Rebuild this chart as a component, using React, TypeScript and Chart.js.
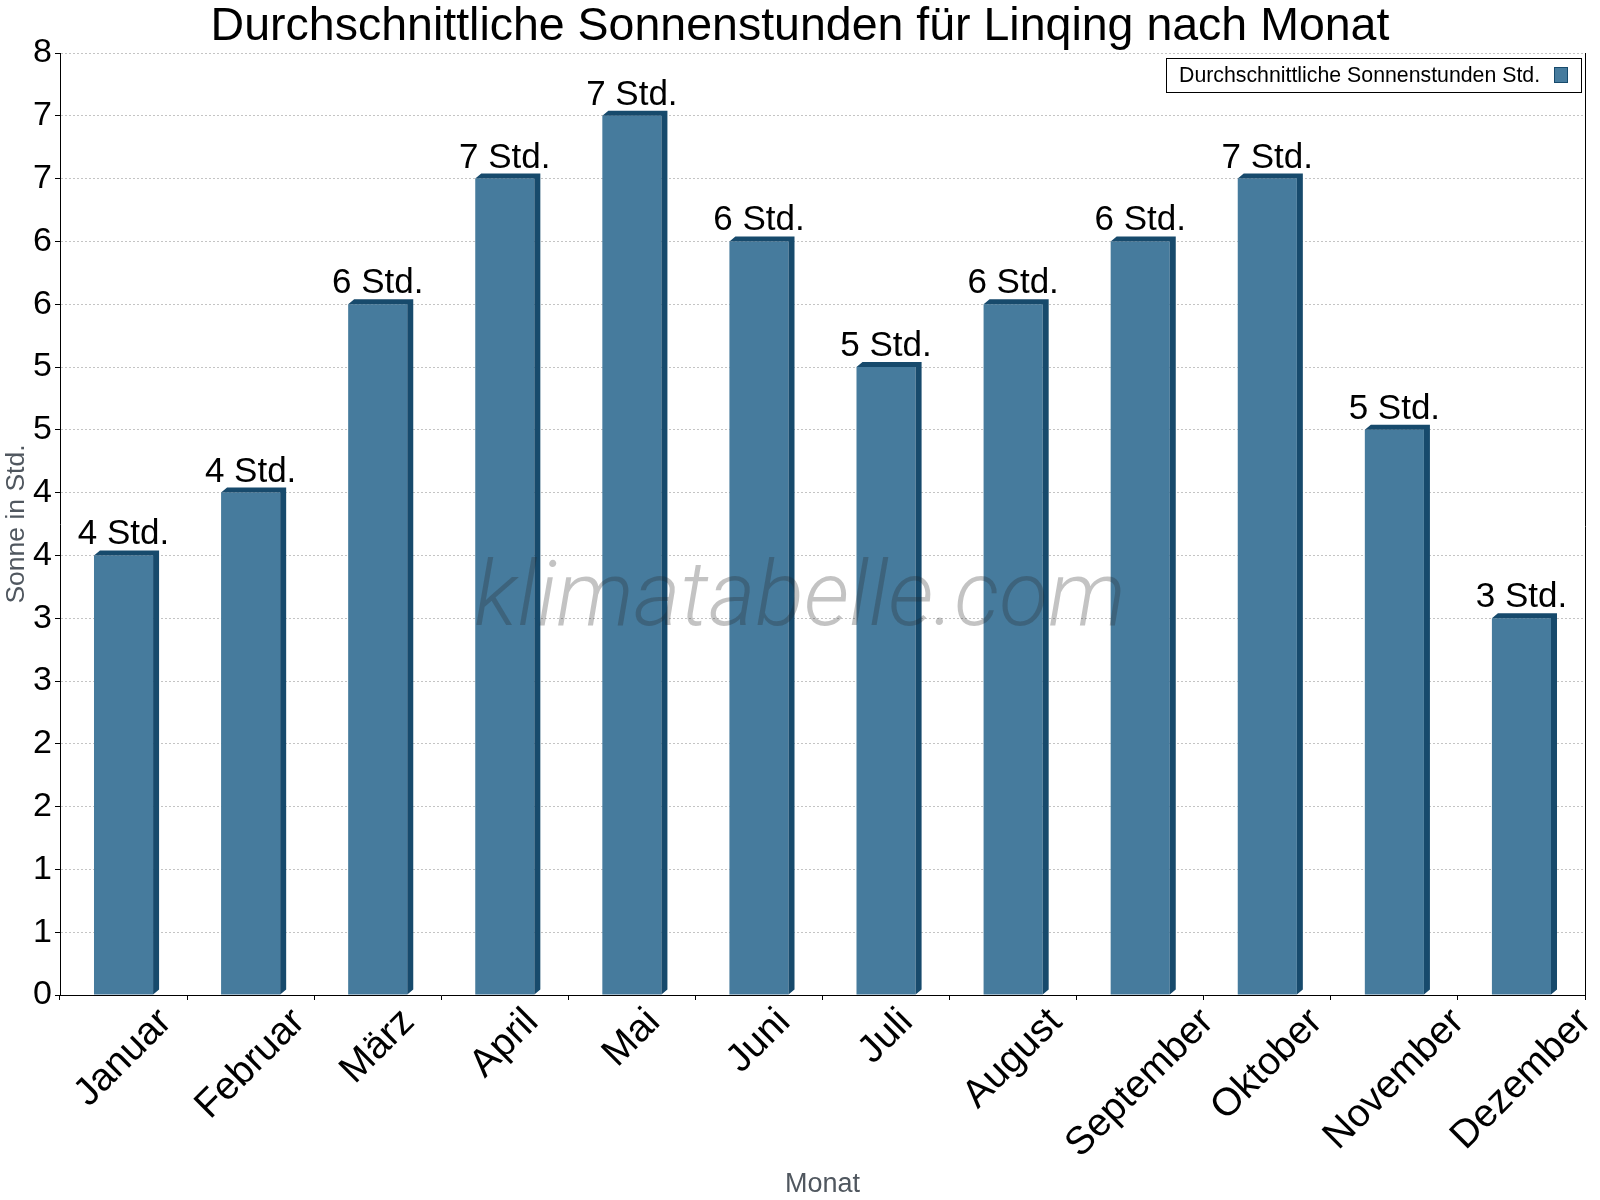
import React, { useEffect, useRef } from 'react';
import { Chart, registerables } from 'chart.js';

Chart.register(...registerables);

const months = ['Januar', 'Februar', 'März', 'April', 'Mai', 'Juni', 'Juli', 'August', 'September', 'Oktober', 'November', 'Dezember'];
const sunHours = [3.5, 4, 5.5, 6.5, 7, 6, 5, 5.5, 6, 6.5, 4.5, 3];
const yMin = 0;
const yMax = 7.5;
const yStep = 0.5;
const unit = 'Std.';
const titleText = 'Durchschnittliche Sonnenstunden für Linqing nach Monat';
const seriesLabel = 'Durchschnittliche Sonnenstunden Std.';
const yTitle = 'Sonne in Std.';
const xTitle = 'Monat';
const watermark = 'klimatabelle.com';

const FONT = '"Liberation Sans", Arial, Helvetica, sans-serif';
const FRONT = '#467b9d';
const DARK = '#174a6c';
const GREY_TEXT = '#50575f';

const bar3d = {
  id: 'bar3d',
  afterDatasetsDraw(chart: any) {
    const ctx = chart.ctx;
    const meta = chart.getDatasetMeta(0);
    const dx = 6;
    const dy = 5;
    ctx.save();
    ctx.fillStyle = DARK;
    meta.data.forEach((el: any) => {
      const { x, y, base, width } = el.getProps(['x', 'y', 'base', 'width'], true);
      const l = x - width / 2;
      const r = x + width / 2;
      ctx.beginPath();
      ctx.moveTo(l, y);
      ctx.lineTo(l + dx, y - dy);
      ctx.lineTo(r + dx, y - dy);
      ctx.lineTo(r + dx, base - dy);
      ctx.lineTo(r, base);
      ctx.lineTo(r, y);
      ctx.closePath();
      ctx.fill();
    });
    // value labels
    ctx.fillStyle = '#000';
    ctx.font = `35px ${FONT}`;
    ctx.textAlign = 'center';
    ctx.textBaseline = 'alphabetic';
    meta.data.forEach((el: any, i: number) => {
      ctx.fillText(`${Math.round(sunHours[i])} ${unit}`, el.x, el.y - 11);
    });
    // watermark
    ctx.font = `italic 300 90px Roboto, ${FONT}`;
    ctx.fillStyle = 'rgba(40,40,40,0.28)';
    ctx.textAlign = 'center';
    ctx.fillText(watermark, chart.width / 2, 625);
    ctx.restore();
  },
  afterDraw(chart: any) {
    const ctx = chart.ctx;
    const area = chart.chartArea;
    const xs = chart.scales.x;
    ctx.save();
    // right border
    ctx.strokeStyle = '#000';
    ctx.lineWidth = 1;
    ctx.beginPath();
    ctx.moveTo(Math.round(area.right) + 0.5, area.top);
    ctx.lineTo(Math.round(area.right) + 0.5, area.bottom + 5);
    ctx.stroke();
    // x tick labels, rotated 45 deg, centered on category
    ctx.fillStyle = '#000';
    const fs = 39;
    ctx.font = `${fs}px ${FONT}`;
    ctx.textAlign = 'center';
    ctx.textBaseline = 'middle';
    months.forEach((m, i) => {
      const x = xs.getPixelForValue(i);
      const w = ctx.measureText(m).width;
      const h = fs * 0.72;
      const cy = xs.top + 11 + (w + h) / (2 * Math.SQRT2);
      ctx.save();
      ctx.translate(x, cy);
      ctx.rotate(-Math.PI / 4);
      ctx.fillText(m, 0, 0);
      ctx.restore();
    });
    // legend box
    const lx = 1166, ly = 58, lw = 415, lh = 34;
    ctx.fillStyle = '#fff';
    ctx.fillRect(lx, ly, lw, lh);
    ctx.strokeStyle = '#000';
    ctx.strokeRect(lx + 0.5, ly + 0.5, lw, lh);
    ctx.fillStyle = '#000';
    ctx.font = `21.3px ${FONT}`;
    ctx.textAlign = 'left';
    ctx.textBaseline = 'middle';
    ctx.fillText(seriesLabel, lx + 13, ly + lh / 2 + 1);
    ctx.fillStyle = FRONT;
    ctx.fillRect(1554, 67, 14, 16);
    ctx.strokeStyle = DARK;
    ctx.strokeRect(1554.5, 67.5, 13, 15);
    ctx.restore();
  },
};

export default function App() {
  const ref = useRef<HTMLCanvasElement | null>(null);
  useEffect(() => {
    document.body.style.margin = '0';
    const canvas = ref.current!;
    const chart = new Chart(canvas, {
      type: 'bar',
      data: {
        labels: months,
        datasets: [
          {
            label: seriesLabel,
            data: sunHours,
            backgroundColor: FRONT,
            borderWidth: 0,
            categoryPercentage: 1,
            barPercentage: 0.465,
          },
        ],
      },
      options: {
        responsive: false,
        animation: false,
        devicePixelRatio: 1,
        layout: { padding: { left: 0, right: 0, top: 0, bottom: 0 } },
        plugins: {
          legend: { display: false },
          tooltip: { enabled: false },
          title: {
            display: true,
            text: titleText,
            color: '#000',
            font: { family: FONT, size: 46.5, weight: 'normal', lineHeight: 1 },
            padding: { top: 4, bottom: 2.5 },
          },
        },
        scales: {
          x: {
            type: 'category',
            offset: true,
            grid: { display: true, drawOnChartArea: false, drawTicks: true, tickLength: 5, tickColor: '#000', offset: true },
            border: { display: true, color: '#000', width: 1 },
            ticks: { display: false },
            title: {
              display: true,
              text: xTitle,
              color: GREY_TEXT,
              font: { family: FONT, size: 27, lineHeight: 1.1 },
              padding: { top: 0, bottom: 1 },
            },
            afterFit: (s: any) => {
              s.height = 205;
            },
          },
          y: {
            type: 'linear',
            min: yMin,
            max: yMax,
            grid: { color: '#c4c4c4', tickColor: '#000', tickLength: 5, drawTicks: true },
            border: { display: true, color: '#000', width: 1, dash: [2, 2] },
            ticks: {
              stepSize: yStep,
              color: '#000',
              padding: 3,
              font: { family: FONT, size: 34 },
              callback: (v: any) => String(Math.round(Number(v))),
            },
            title: {
              display: true,
              text: yTitle,
              color: GREY_TEXT,
              font: { family: FONT, size: 26.5 },
              padding: { top: 1, bottom: 0 },
            },
            afterFit: (s: any) => {
              s.width = 60;
            },
          },
          yRight: {
            type: 'linear',
            position: 'right',
            min: yMin,
            max: yMax,
            display: true,
            grid: { display: false, drawTicks: false },
            border: { display: false },
            ticks: { display: false },
            afterFit: (s: any) => {
              s.width = 15;
            },
          },
        },
      },
      plugins: [bar3d],
    });
    return () => chart.destroy();
  }, []);
  return (
    <div style={{ width: 1600, height: 1200 }}>
      <canvas ref={ref} width={1600} height={1200} style={{ display: 'block' }} />
    </div>
  );
}
